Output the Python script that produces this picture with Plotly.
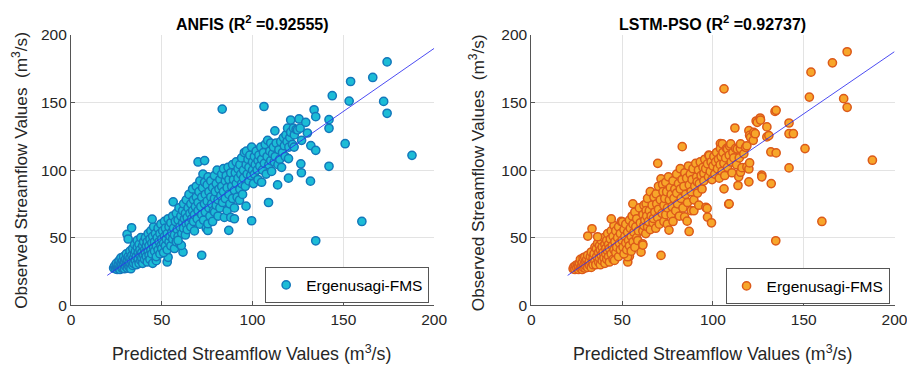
import plotly.graph_objects as go

# ---------------- data ----------------
anfis_xy = [
    (23.5,27.5),(24,29),(24.5,27),(25,28.5),(25,31),(25.5,26.5),(26,28),(26,30),(26.5,27),(26.5,33),
    (27,29),(27,26.5),(27.5,31),(27.5,35),(28,27.5),(28,30),(28.5,33),(28.5,28),(29,30.5),(29,36),
    (29.5,27),(29.5,32),(30,29),(30,34),(30.5,31),(30.5,38),(31,27.5),(31,33),(31.5,30),(31.5,36),
    (32,28.5),(32,32),(32.5,35),(32.5,40),(33,30),(33,27),
    (33.5,33),(33.5,37),(34,29.5),(34,42),(34.5,35),(34.5,31),(35,38),(35,45),(35.5,33),(35.5,40),
    (36,30),(36,36),(36.5,43),(36.5,48),(37,34),(37,39),(37.5,31),(37.5,45),(38,37),(38,41),
    (38.5,33),(38.5,50),(39,39),(39,35),(39.5,44),(39.5,31),(40,37),(40,47),(40.5,41),(40.5,34),
    (41,39),(41,50),(41.5,44),(41.5,36),(42,32),(42,47),(42.5,40),(42.5,53),(43,37),(43,44),
    (43.5,49),(43.5,34),(44,41),(44,55),(44.5,46),(44.5,38),(45,31),(45,51),(45.5,43),(45.5,58),
    (30.9,52.4),(33.4,57.3),(31.5,49),(44.7,63.7),(47,33),(53,32),(53.5,35.5),
    (46,40),(46,47),(46.5,53),(47,44),(47,36),(47.5,50),(48,57),(48,41),(48.5,47),(49,38),
    (49,53),(49.5,44),(49.5,60),(50,49),(50,42),(50.5,55),(51,46),(51,39),(51.5,51),(51.5,62),
    (52,44),(52,57),(52.5,49),(53,41),(53,53),(53.5,64),(54,47),(54,58),(54.5,51),(55,44),
    (55,61),(55.5,54),(56,49),(56,66),(56.3,76.5),(56.5,57),(57,42),(57,52),(57.5,62),(58,47),
    (58,68),(58.5,56),(59,51),(59,63),(59.5,72),(60,45),(60,58),(60.5,66),(61,53),(61.7,39.3),
    (60.8,44.3),(59,48),
    (61.5,61),(61.5,70),(62,57),(62,75),(62.5,64),(63,52),(63,68),(63.5,60),(63.5,78),(64,65),
    (64,56),(64.5,72),(65,61),(65,82),(65.5,68),(66,58),(66,75),(66.5,64),(67,70),(67,86),
    (67.5,62),(67.5,78),(68,67),(68,55),(68.5,73),(69,88),(69,80),(69.5,64),(70,70),(70,76),
    (70,106),(70.5,84),(71,60),(71,92),(71.5,73),(72,67),(72,80),(72,37),(72.5,87),(72.7,97),
    (73,63),(73.5,75),(73.6,107),(73.6,91),(74,82),(74,69),(74.5,57),(75,77),(75,89),(75.4,55.3),
    (75.4,60.3),(75.5,95),
    (76,72),(76,84),(76.5,66),(77,80),(77,92),(77.5,75),(78,62),(78,87),(78.5,70),(79,79),
    (79,96),(79.1,68.9),(79.5,84),(80,74),(80,90),(80.5,100),(81,78),(81,66),(81.5,86),(82,93),
    (82,72),(82.5,81),(83,97),(83,88),(83.5,76),(84,101),(84,84),(84.5,65),(85,92),(85,79),
    (85.5,96),(86,70),(86,87),(86.5,102),(86.9,55.4),(87,82),(87,93),(87.5,75),(88,98),(88,65),
    (88.5,88),(89,104),(89,79),(89.5,93),(90,72),(90,85),(90,64),(90.5,98),(91,106),(91,90),
    (91.5,80),(92,101),(92,94),(92.8,77.7),(93,86),(93,104),(93.5,97),(94,109),(94,90),(94.5,82),
    (95,100),(95,94),(95.5,113),
    (96,88),(96.4,73.3),(96.5,104),(96.6,114),(97,97),(97.5,108),(98,92),(98,102),(98.5,111),(99,96),
    (99.5,62.5),(99.5,117),(100,100),(100,106),(100.5,90),(101,110),(101,97),(101.5,104),(102,114),(102.5,100),
    (103,107),(103,93),(103.5,111),(104,103),(104.5,117),(105,108),(105,91),(105.5,100),(106,113),(106.3,147),
    (106.5,105),(107,119),(107.5,97),(108,110),(108.3,122),(108.8,76),(109,104),(109.5,114),(110,107),(110,120),
    (110.5,99),(111,112),(111.5,117),(112,106),(112.3,129),(112.5,110),(113,120),(113.8,89),(114,104),(114.5,115),
    (115,108),(115.5,121),(116,102),(116.5,113),(117,124),(117.5,118),
    (118,110),(118.4,126),(119,121),(119.3,131),(119.8,94),(119.8,108.5),(120,117),(120.5,124),(121,137),(121,128),
    (122,119),(122.5,131),(122.9,117),(123,126),(124,130),(124.8,129.7),(125.6,137.8),(126.2,131),(126.6,104.6),(126.9,98),
    (127,122),(129.3,135.3),(130.2,127.4),(131.9,91.8),(132.1,118.1),(133.9,144.6),(134.8,139.5),(134.8,114.6),(134.8,47.7),
    (142.1,137.3),(142.1,130.9),(142.1,102.8),(143.9,155),(151,119.5),(153.2,151),(154,165.5),(160.2,62),
    (166.2,168.5),(172.2,150.8),(174.1,142),(174.1,180),(187.8,110.9),(83.3,145.1),
]

lstm_xy = [
    (23,27),(23.5,28.5),(24,26.5),(24.5,29.5),(25,27.5),(25.5,30),(26,26.5),(26,29),(26.5,31),(27,27.5),
    (27,34),(27.5,29),(28,26.5),(28,31.5),(28.5,28),(28.5,35),(29,30),(29.4,35.7),(29.5,27.5),(30,32),
    (30,29),(30.5,34),(31,28),(31,37),(31.5,31),(32,29.5),(32,33),(32.5,36),(33,28),(33,39.4),
    (33.5,32),(34,30),(34,35),(34.5,38),(35,33),(35,43),(35.5,30),(35.8,41.9),(36,36),(36.5,46),
    (37,32),(37,39),(37.5,35),(37.5,44),(38,30),(38,41),(38.5,37),(38.5,48),(39,33),(39,43),
    (39.5,39),(40,35),(40,50),(40.5,31),(40.5,45),(41,38),(41,42),(41.5,34),(41.5,48),(42,40),
    (42,53),(42.5,36),(42.5,45),(43,32),(43,42),(43.5,49),(44,38),(44,55),(44.5,44),(45,34),
    (45,51),(45.5,41),(45.5,59),
    (31.1,51.2),(33.4,56.6),(36.5,50.7),(44,63.9),(45.8,33.2),(53.1,32),(54,36.2),(53,35.9),
    (46,47),(46.5,39),(46.5,55),(47,43),(47.5,50),(48,36),(48,58),(48.5,46),(49,41),(49,53),
    (49.5,62),(50,48),(50.2,61.7),(50.5,43),(51,56),(51,38),(51.5,51),(52,46),(52,60),(52.5,41),
    (53,54),(53.5,48),(54,63),(54,44),(54.5,57),(55,51),(55,40),(55.5,66),(55.9,75),(56,47),
    (56,60),(56.5,54),(57,43),(57,69),(57.5,58),(58,50),(58,64),(58.6,47.9),(59,55),(59.5,72),
    (60,61),(60.4,39.3),(61.3,45.5),(61.4,54.9),(61.4,44.5),
    (61.5,67),(62,59),(62,74),(62.5,63),(63,53),(63.2,75),(63.2,70),(63.5,66),(64,58),(64,79),
    (64.5,62),(65,70),(65.5,56),(65.5,84),(66,66),(66.5,74),(67,61),(67.2,64.2),(67.5,80),(68,69),
    (68.5,57),(68.7,82.4),(69,75),(69.5,65),(69.6,105),(70,88),(70,71),(70.5,60),(71,78),(71.4,93.5),
    (71.4,36.9),(72,68),(72.3,89.3),(72.5,84),(73,74),(73,62),(73.5,79),(74,91),(74,67),(74.5,84),
    (74.9,60),(75,72),(75.5,95),(75.8,55.6),
    (76,78),(76.5,87),(77,67),(77,82),(77.5,73),(78,92),(78,62),(78.5,79),(79,86),(79.5,70),
    (80,97),(80,83),(80.5,75),(81,90),(81.5,66),(82,86),(82,101),(82.5,79),(83,93),(83.1,117.3),
    (83.5,72),(84,88),(84.4,65.4),(84.5,98),(85,82),(85.5,94),(85.8,62.2),(86,76),(86.5,103),(86.9,54.6),
    (87,89),(87.5,97),(88,70),(88,84),(88.5,93),(89,101),(89.5,78),(89.5,69.9),(90,88),(90.5,105),
    (91,95),(91.3,91.3),(91.5,83),(92,100),(92.2,74),(92.5,90),(93,106),(93.5,96),(94,86),(94.5,102),
    (95,97.4),(95,92),(95.5,108),
    (96,101),(96.1,72.5),(96.8,71.6),(97,104.6),(97,65.2),(97.5,95),(97.7,111),(98,110.7),(98.5,99),(99,106),
    (99.2,61),(99.5,93),(100,103),(100.5,110),(101,97),(101.5,106),(102,113),(102.5,101),(103,108),(103.5,94),
    (104,104),(104.1,119.6),(104.1,115.9),(104.5,110),(105,99),(105.2,119.3),(105.5,113),(106,105),(106.1,86.1),(106.1,160.1),
    (106.5,96),(107,109),(107.5,116),(108,115.6),(108,102),(108.7,74.8),(109,111),(109.2,117.8),(109.8,119.3),(110,106),
    (110.5,98),(111,113),(111.5,109),(112.1,131.1),(112.5,116),(113,104),(113.4,115.6),(113.8,88.6),(114.2,95),(114.5,109),
    (115.1,115.9),(115.2,119.3),(115.2,98.4),(116,101.8),(117,112),(118,116.8),(118.7,118),(118.7,102.3),(119.8,129.1),(119.8,100.8),
    (119.8,91.3),(120.2,105.3),(120.2,125.7),(120.7,124.2),(122.2,122),(122.5,127.9),(123.3,126.9),(123.8,136.3),(124.4,135.3),(126,138.5),
    (126.2,137),(126.9,96.2),(126.9,95),(129.7,131.9),(129.7,124.5),(130.8,125.5),(131.9,113.4),(132.1,90),(134.2,143.4),(134.8,144.2),
    (134.8,112.7),(134.6,47.7),
    (141.9,134.8),(141.9,126.9),(144.3,126.9),(141.9,101.6),(150.7,115.9),(153.1,154),(154,172.4),(160,62),
    (165.8,179.3),(172,152.8),(173.9,146.4),(173.9,187.5),(187.8,107.3),(108.9,75),
]

fit_x = [20, 200]
anfis_fit_y = [22.1, 190.0]
lstm_fit_y = [22.1, 187.6]

panel_titles = ["ANFIS (R<sup>2</sup> =0.92555)", "LSTM-PSO (R<sup>2</sup> =0.92737)"]
legend_name = "Ergenusagi-FMS"
tick_vals = [0, 50, 100, 150, 200]
x_label = "Predicted Streamflow Values (m<sup>3</sup>/s)"
y_label = "Observed Streamflow Values  (m<sup>3</sup>/s)"

# ---------------- figure ----------------
W, H = 915, 365
FONT = "Liberation Sans, Arial, Helvetica, sans-serif"

# calibration of paper fraction -> screenshot pixel (measured on a test render)
OX, SX = 9.75, 902.5
OY, SY = 16.1, 348.75

def fx(p):
    return (p - OX) / SX

def fy(p):
    return 1 - (p - OY) / SY

fig = go.Figure()

series = [
    (anfis_xy, anfis_fit_y, "#1cbcd6", "#1478bb", "x", "y", "legend"),
    (lstm_xy, lstm_fit_y, "#f7a62a", "#dc5a1a", "x2", "y2", "legend2"),
]
for pts, fit_y, face, edge, xa, ya, lg in series:
    fig.add_trace(go.Scatter(
        x=[p[0] for p in pts], y=[p[1] for p in pts],
        mode="markers", name=legend_name, xaxis=xa, yaxis=ya, legend=lg,
        marker=dict(size=8.2, color=face, line=dict(color=edge, width=1.5)),
    ))
    fig.add_trace(go.Scatter(
        x=fit_x, y=fit_y, mode="lines", showlegend=False, xaxis=xa, yaxis=ya,
        line=dict(color="rgba(45,45,240,0.85)", width=1),
    ))

axis_common = dict(
    range=[0, 200], tickvals=tick_vals, showgrid=True, gridcolor="#e3e3e3", gridwidth=1,
    showline=True, linecolor="#555555", linewidth=1, ticks="inside", ticklen=4,
    tickcolor="#555555", zeroline=False, mirror=False,
    tickfont=dict(family=FONT, size=15.5, color="#262626"),
)

dom_y = [fy(305), fy(34)]
legend_common = dict(xanchor="right", yanchor="middle", bgcolor="white",
                     bordercolor="#555555", borderwidth=1,
                     font=dict(family=FONT, size=15.5, color="#000000"))
fig.update_layout(
    width=W, height=H, margin=dict(l=0, r=0, t=0, b=0),
    plot_bgcolor="white", paper_bgcolor="white",
    xaxis=dict(domain=[fx(69), fx(434)], anchor="y", **axis_common),
    yaxis=dict(domain=dom_y, anchor="x", **axis_common),
    xaxis2=dict(domain=[fx(531.7), fx(896.7)], anchor="y2", **axis_common),
    yaxis2=dict(domain=dom_y, anchor="x2", **axis_common),
    legend=dict(x=fx(429), y=fy(285), **legend_common),
    legend2=dict(x=fx(891.7), y=fy(286), **legend_common),
    showlegend=True,
)

annots = []
for cx, title in [(251.7, panel_titles[0]), (713.7, panel_titles[1])]:
    annots.append(dict(text="<b>" + title + "</b>", x=fx(cx), y=fy(21.7), xref="paper", yref="paper",
                       showarrow=False, xanchor="center", yanchor="middle",
                       font=dict(family=FONT, size=16, color="#000000")))
for cx in [250.5, 714]:
    annots.append(dict(text=x_label, x=fx(cx), y=fy(353), xref="paper", yref="paper",
                       showarrow=False, xanchor="center", yanchor="middle",
                       font=dict(family=FONT, size=17.8, color="#262626")))
for cx, cy in [(17, 170), (476.7, 172)]:
    annots.append(dict(text=y_label, x=fx(cx), y=fy(cy), xref="paper", yref="paper",
                       showarrow=False, xanchor="center", yanchor="middle", textangle=-90,
                       font=dict(family=FONT, size=17.2, color="#262626")))
fig.update_layout(annotations=annots)

fig.write_html("out.html")
